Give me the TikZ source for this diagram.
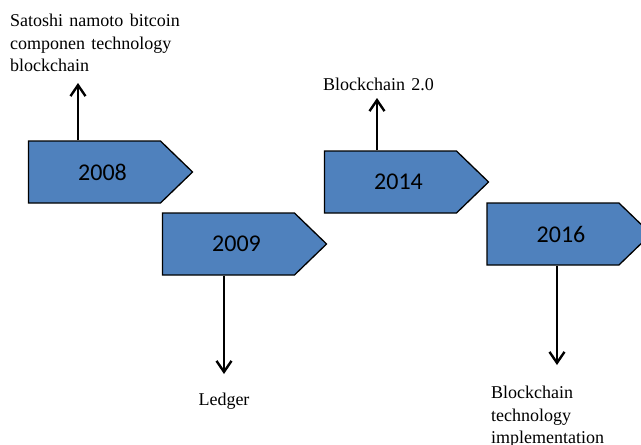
\documentclass[tikz,border=0pt]{standalone}
\usepackage{fontspec}
\setmainfont[WordSpace={1.4,1,1}]{Liberation Serif}
\newfontfamily\boxfont{Carlito}
\usetikzlibrary{arrows.meta,shapes.symbols}
\definecolor{boxblue}{RGB}{79,129,189}

\begin{document}
\begin{tikzpicture}[x=1pt,y=-1pt]
\tikzset{year/.style = {shape=signal, signal to=east, signal pointer angle=88, draw, line width=1.3pt, fill=boxblue, minimum width=164pt, minimum height=62pt, inner sep=0pt, font=\boxfont\fontsize{24}{28}\selectfont}}
\tikzset{note/.style = {inner sep=0pt, align=left, font=\fontsize{18}{22.5}\selectfont}}
\tikzset{edge/.style = {line width=2.4pt, -{Straight Barb[length=11pt,width=15pt,line width=2.4pt]}}}
\useasboundingbox (0,0) rectangle (641,445);

% the text in each box sits a little right of the middle
\foreach \pos/\name in {{(94.5,172)/2008}, {(228.5,244)/2009}, {(390.5,182)/2014}, {(553,234)/2016}}
\node[year] (y\name) at \pos {\hspace*{16pt}\name};

\node[note, anchor=north west] (n2008) at (10,14) {Satoshi namoto bitcoin\\componen technology\\blockchain};
\node[note, anchor=base] (n2009) at (224,405) {Ledger};
\node[note, anchor=base west] (n2014) at (323,90) {Blockchain 2.0};
\node[note, anchor=north west] (n2016) at (491,386) {Blockchain\\technology\\implementation};

\coordinate (t2008) at (78,83);
\coordinate (t2009) at (224,374);
\coordinate (t2014) at (377,98);
\coordinate (t2016) at (557,365);

\foreach \from/\to in {2008/north, 2009/south, 2014/north, 2016/south}
\draw [edge] (y\from.\to -| t\from) -- (t\from);

\end{tikzpicture}
\end{document}
